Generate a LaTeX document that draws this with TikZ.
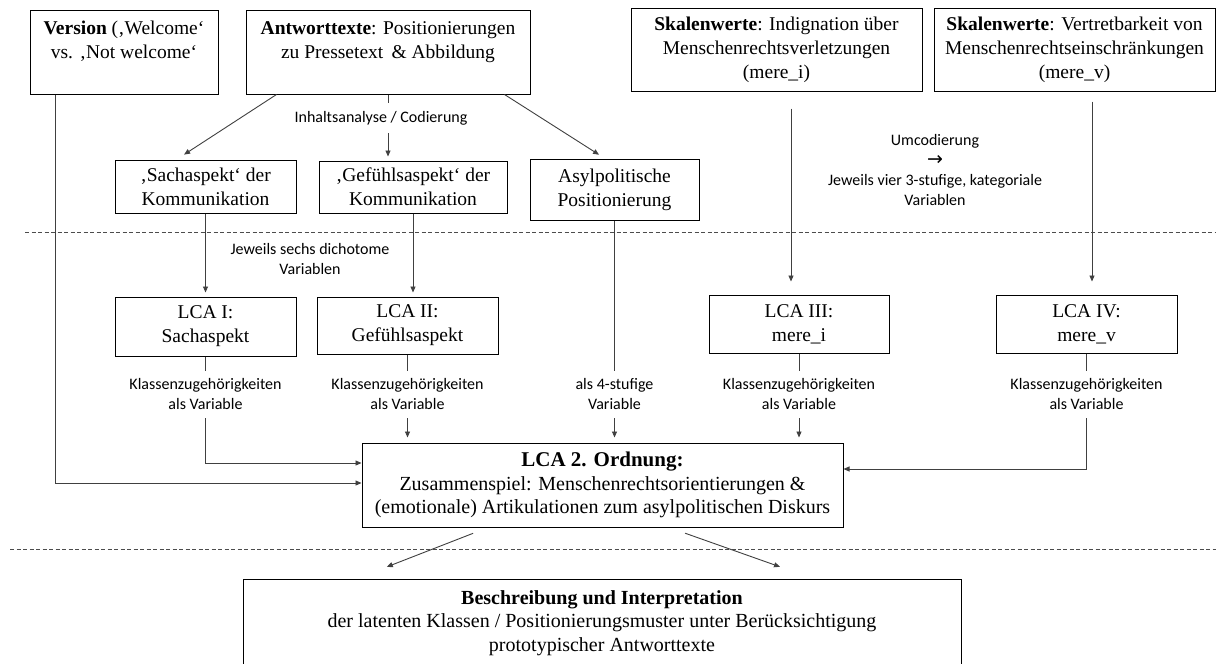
\documentclass[tikz,border=0pt]{standalone}
\usepackage{fontspec}
\setmainfont{Liberation Serif}
\newfontfamily\calib{Carlito}
\newfontfamily\symfont{DejaVu Sans}
\usepackage{tikz}
\usetikzlibrary{arrows.meta, positioning}
\tikzset{
  box/.style={rectangle, draw=black, line width=1pt, fill=white, align=center,
              inner sep=2pt, font=\fontsize{19.5}{24}\selectfont},
  bigbox/.style={box, font=\fontsize{20}{23.5}\selectfont},
  lbl/.style={align=center, inner sep=8pt, font=\calib\fontsize{16}{20}\selectfont},
  link/.style={line width=0.9pt, draw=black!75},
  arrow/.style={link, -{Triangle[length=6pt,width=5pt]}},
  divider/.style={line width=0.9pt, draw=black!70, dash pattern=on 4pt off 2.5pt},
}
\begin{document}
\begin{tikzpicture}[x=1pt, y=-1pt]
    \useasboundingbox[fill=white] (0,0) rectangle (1216,664);
    % obere Reihe
    \node[box, minimum width=188pt, minimum height=84pt] (version) at (124,52)
      {\textbf{Version} (‚Welcome‘\\vs. ‚Not welcome‘\\~};
    \node[box, minimum width=284pt, minimum height=84pt] (antwort) at (388,52)
      {\textbf{Antworttexte}: Positionierungen\\zu Pressetext \,\& Abbildung\\~};
    \node[box, minimum width=291pt, minimum height=83pt] (skal1) at (776.5,49.5)
      {\textbf{Skalenwerte}: Indignation über\\Menschenrechtsverletzungen\\(mere\_i)};
    \node[box, minimum width=281pt, minimum height=83pt] (skal2) at (1074.5,49.5)
      {\textbf{Skalenwerte}: Vertretbarkeit von\\Menschenrechtseinschränkungen\\(mere\_v)};
    \node[box, minimum width=181pt, minimum height=53pt] (sach) at (205.5,186.5)
      {‚Sachaspekt‘ der\\Kommunikation};
    \node[box, minimum width=188pt, minimum height=52pt] (gefuehl) at (413,187)
      {‚Gefühlsaspekt‘ der\\Kommunikation};
    \node[box, minimum width=169pt, minimum height=61pt] (asyl) at (614.5,189.5)
      {Asylpolitische\\Positionierung};
    \node[lbl] (codier) at (381,118) {Inhaltsanalyse / Codierung};
    \node[lbl] (umcod) at (935,170)
      {Umcodierung\\{\symfont\fontsize{19}{20}\selectfont →}\\Jeweils vier 3-stufige, kategoriale\\Variablen};
    % LCA-Reihe
    \node[lbl] (dicho) at (310,259) {Jeweils sechs dichotome\\Variablen};
    \node[box, minimum width=181pt, minimum height=59pt] (lcaI) at (205.5,326.5) {LCA I:\\Sachaspekt};
    \node[box, minimum width=181pt, minimum height=57pt] (lcaII) at (407.5,325.5) {LCA II:\\Gefühlsaspekt};
    \node[box, minimum width=180pt, minimum height=58pt] (lcaIII) at (799,324) {LCA III:\\mere\_i};
    \node[box, minimum width=181pt, minimum height=58pt] (lcaIV) at (1086.5,324) {LCA IV:\\mere\_v};
    \node[lbl, below=14pt of lcaI] (cls1) {Klassenzugehörigkeiten\\als Variable};
    \node[lbl, below=16pt of lcaII] (cls2) {Klassenzugehörigkeiten\\als Variable};
    \node[lbl, below=150pt of asyl] (stufe) {als 4-stufige\\Variable};
    \node[lbl, below=17pt of lcaIII] (cls3) {Klassenzugehörigkeiten\\als Variable};
    \node[lbl, below=17pt of lcaIV] (cls4) {Klassenzugehörigkeiten\\als Variable};
    % LCA 2. Ordnung und Ergebnis
    \node[bigbox, minimum width=481pt, minimum height=84pt] (lca2) at (602.5,485)
      {{\fontsize{21}{23.5}\selectfont\textbf{LCA 2. Ordnung:}}\\Zusammenspiel: Menschenrechtsorientierungen \&\\(emotionale) Artikulationen zum asylpolitischen Diskurs};
    \node[bigbox, minimum width=718pt, minimum height=88pt] (final) at (602,623)
      {\textbf{Beschreibung und Interpretation}\\der latenten Klassen / Positionierungsmuster unter Berücksichtigung\\prototypischer Antworttexte};
    % Trennlinien
    \draw[divider] (25,232) -- (1216,232);
    \draw[divider] (10,549) -- (1216,549);
    % Verbindungen
    \draw[arrow, shorten >=9pt] ([xshift=31pt]antwort.south west) -- ([xshift=-29pt]sach.north);
    \draw[link] (antwort.south) -- (antwort.south |- codier.north);
    \draw[arrow, shorten >=4pt] (antwort.south |- codier.south) -- (antwort.south |- gefuehl.north);
    \draw[arrow, shorten >=7pt] ([xshift=-26pt]antwort.south east) -- ([xshift=-9.5pt]asyl.north);
    \draw[arrow, shorten >=4pt] (sach) -- (lcaI);
    \draw[arrow, shorten >=4pt] (gefuehl.south) -- (gefuehl.south |- lcaII.north);
    \draw[arrow] ([xshift=14.5pt,yshift=-17pt]skal1.south) -- ([xshift=-8pt,yshift=13pt]lcaIII.north);
    \draw[arrow] ([xshift=17.5pt,yshift=-10pt]skal2.south) -- ([xshift=5.5pt,yshift=13pt]lcaIV.north);
    \draw[link] (lcaI) -- (cls1);
    \draw[link] (lcaII) -- (cls2);
    \draw[link] (asyl) -- (stufe);
    \draw[link] (lcaIII) -- (cls3);
    \draw[link] (lcaIV) -- (cls4);
    \draw[arrow] ([xshift=26pt]version.south west) |- ([yshift=2pt]lca2.west);
    \draw[arrow] (cls1.south) |- ([yshift=22pt]lca2.west);
    \draw[arrow, shorten >=5pt] (cls2.south) -- (cls2.south |- lca2.north);
    \draw[arrow, shorten >=5pt] (stufe.south) -- (stufe.south |- lca2.north);
    \draw[arrow, shorten >=5pt] (cls3.south) -- (cls3.south |- lca2.north);
    \draw[arrow] (cls4.south) |- ([yshift=16pt]lca2.east);
    \draw[arrow, shorten <=16pt, shorten >=32pt] ([xshift=-114.5pt]lca2.south) -- ([xshift=-245pt]final.north);
    \draw[arrow, shorten <=17pt, shorten >=35pt] ([xshift=66.5pt]lca2.south) -- ([xshift=211pt]final.north);
  \end{tikzpicture}
\end{document}
